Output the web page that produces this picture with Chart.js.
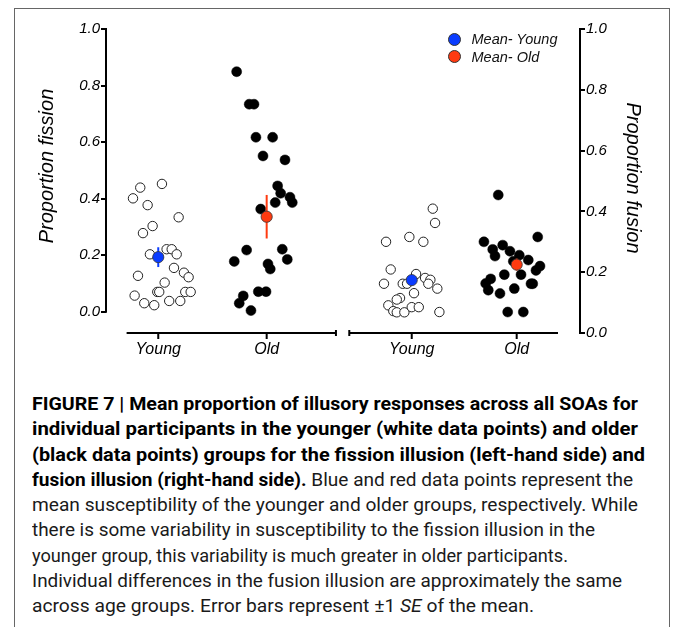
<!DOCTYPE html>
<html>
<head>
<meta charset="utf-8">
<script src="https://cdn.jsdelivr.net/npm/chart.js@4.4.1/dist/chart.umd.min.js"></script>
<style>
  body { margin: 0; background: #fff; }
  #page { position: relative; width: 673px; height: 627px; overflow: hidden; background: #fff; }
  #frame { position: absolute; left: 14px; top: 8px; width: 656px; height: 640px; border: 1px solid #666; box-sizing: border-box; }
  #chart { position: absolute; left: 0; top: 0; }
  .dot { position: absolute; width: 13px; height: 13px; border-radius: 50%; box-sizing: border-box; border: 1px solid #333; }
  .legtxt { position: absolute; font: italic 14.5px "Liberation Sans", Arial, sans-serif; line-height: 16px; color: #111; white-space: nowrap; }
  #caption { position: absolute; left: 32px; top: 392px; font-family: "Liberation Sans Narrow", "Roboto", sans-serif; font-size: 18.8px; line-height: 25.25px; color: #1a1a1a; }
  #caption .ln { white-space: nowrap; height: 25.25px; }
  #caption .ln span.in { display: inline-block; transform-origin: 0 50%; }
  #caption b { color: #000; }
</style>
</head>
<body>
<div id="page">
  <div id="frame"></div>
  <canvas id="chart" width="673" height="372"></canvas>
  <div class="dot" style="left:447.5px; top:32.8px; background:#0a3cff;"></div>
  <div class="legtxt" style="left:471.5px; top:31.3px;">Mean- Young</div>
  <div class="dot" style="left:447.5px; top:50.2px; background:#ff3a10;"></div>
  <div class="legtxt" style="left:471.5px; top:48.7px;">Mean- Old</div>
  <div id="caption">
    <div class="ln" data-w="606"><span class="in"><b>FIGURE 7 | Mean proportion of illusory responses across all SOAs for</b></span></div>
    <div class="ln" data-w="606"><span class="in"><b>individual participants in the younger (white data points) and older</b></span></div>
    <div class="ln" data-w="613"><span class="in"><b>(black data points) groups for the fission illusion (left-hand side) and</b></span></div>
    <div class="ln" data-w="601"><span class="in"><b>fusion illusion (right-hand side).</b> Blue and red data points represent the</span></div>
    <div class="ln" data-w="606"><span class="in">mean susceptibility of the younger and older groups, respectively. While</span></div>
    <div class="ln" data-w="563"><span class="in">there is some variability in susceptibility to the fission illusion in the</span></div>
    <div class="ln" data-w="536"><span class="in">younger group, this variability is much greater in older participants.</span></div>
    <div class="ln" data-w="590"><span class="in">Individual differences in the fusion illusion are approximately the same</span></div>
    <div class="ln" data-w="502"><span class="in">across age groups. Error bars represent ±1 <i>SE</i> of the mean.</span></div>
  </div>
</div>
<script>
// categories and tick values
const xCats = ['Young', 'Old', 'Young', 'Old'];
const xPos = [1, 2, 3.338, 4.306];
const yTicks = [0, 0.2, 0.4, 0.6, 0.8, 1.0];

// fission illusion (left axis) - proportion and horizontal jitter
const fissionYoung = [0.439, 0.452, 0.401, 0.377, 0.334, 0.303, 0.278, 0.203, 0.221, 0.221, 0.203, 0.155, 0.138,
  0.122, 0.127, 0.103, 0.070, 0.070, 0.070, 0.070, 0.057, 0.030, 0.023, 0.038, 0.038];
const fissionYoungJit = [-0.166, 0.034, -0.233, -0.098, 0.188, -0.052, -0.141, -0.077, 0.077, 0.124, 0.170, 0.145, 0.237,
  0.280, -0.187, 0.059, -0.009, 0.009, 0.249, 0.299, -0.218, -0.129, -0.037, 0.101, 0.203];
const fissionOld = [0.849, 0.734, 0.734, 0.617, 0.617, 0.551, 0.537, 0.445, 0.419, 0.405, 0.386, 0.386, 0.363,
  0.218, 0.221, 0.178, 0.185, 0.169, 0.151, 0.071, 0.071, 0.056, 0.030, 0.004];
const fissionOldJit = [-0.277, -0.161, -0.117, -0.099, 0.055, -0.034, 0.169, 0.101, 0.129, 0.215, 0.236, 0.079, -0.055,
  -0.185, 0.144, -0.299, 0.190, 0.012, 0.033, -0.077, -0.006, -0.216, -0.253, -0.145];

// fusion illusion (right axis)
const fusionYoung = [0.409, 0.362, 0.316, 0.300, 0.300, 0.209, 0.162, 0.162, 0.162, 0.194, 0.181, 0.175, 0.162,
  0.146, 0.131, 0.115, 0.110, 0.091, 0.072, 0.068, 0.068, 0.085, 0.085, 0.069];
const fusionYoungJit = [0.194, 0.215, -0.022, -0.237, 0.107, -0.194, -0.256, -0.083, -0.043, 0.040, 0.123, 0.172, 0.153,
  0.236, 0.021, -0.108, -0.138, -0.216, -0.170, -0.138, -0.068, 0, 0.065, 0.255];
const fusionOld = [0.454, 0.316, 0.300, 0.275, 0.253, 0.289, 0.269, 0.256, 0.240, 0.220, 0.206, 0.236, 0.192,
  0.192, 0.178, 0.163, 0.141, 0.130, 0.146, 0.162, 0.162, 0.069, 0.069];
const fusionOldJit = [-0.170, 0.194, -0.302, -0.221, -0.200, -0.129, -0.062, 0.024, 0.107, 0.215, 0.178, -0.031, -0.114,
  0.040, -0.240, -0.286, -0.262, -0.154, -0.022, 0.132, 0.148, -0.083, 0.061];

// group means and standard errors [young, old]
const fissionMeans = [0.193, 0.336];
const fissionSE = [0.035, 0.077];
const fusionMeans = [0.174, 0.225];
const fusionSE = [0.015, 0.02];

// axis line extents in x units (the two panels have separate baselines)
const xSegments = [[0.708, 2.639], [2.762, 4.687]];

const FONT = '"Liberation Sans", Arial, sans-serif';
const BLUE = '#0a3cff';
const RED = '#ff3a10';

function pts(ys, jit, center) {
  return ys.map((v, i) => ({ x: center + jit[i], y: v }));
}

function groupSet(label, data, axis, filled) {
  return {
    label, data, yAxisID: axis, order: 3,
    backgroundColor: filled ? '#000' : '#fff',
    borderColor: filled ? '#000' : '#222',
    borderWidth: filled ? 0.5 : 1,
    pointRadius: filled ? 5 : 4.7
  };
}

function errorSet(x, m, se, axis, color) {
  return {
    type: 'line', label: 'se', yAxisID: axis, order: 2,
    data: [{ x, y: m - se }, { x, y: m + se }],
    borderColor: color, borderWidth: 2, pointRadius: 0
  };
}

function meanSet(label, x, m, axis, color) {
  return {
    label, yAxisID: axis, order: 1,
    data: [{ x, y: m }],
    backgroundColor: color, borderColor: '#333', borderWidth: 0.8, pointRadius: 5.6
  };
}

const axisPlugin = {
  id: 'axisPlugin',
  afterDraw(chart) {
    const { ctx } = chart;
    const { x, yL } = chart.scales;
    ctx.save();
    ctx.strokeStyle = '#000';
    ctx.lineWidth = 2;
    // left y axis only spans 0..1
    ctx.beginPath();
    ctx.moveTo(yL.right, yL.getPixelForValue(1) - 1);
    ctx.lineTo(yL.right, yL.getPixelForValue(0) + 1);
    ctx.stroke();
    // split x axis
    const ay = x.top;
    ctx.beginPath();
    xSegments.forEach(([a, b]) => {
      ctx.moveTo(x.getPixelForValue(a), ay);
      ctx.lineTo(x.getPixelForValue(b), ay);
    });
    // end ticks at the gap
    const e1 = x.getPixelForValue(xSegments[0][1]);
    const e2 = x.getPixelForValue(xSegments[1][0]);
    ctx.moveTo(e1, ay - 3); ctx.lineTo(e1, ay + 3);
    ctx.moveTo(e2, ay - 3); ctx.lineTo(e2, ay + 3);
    // category ticks
    xPos.forEach(v => {
      const px = x.getPixelForValue(v);
      ctx.moveTo(px, ay); ctx.lineTo(px, ay + 6);
    });
    ctx.stroke();
    // axis titles
    ctx.fillStyle = '#000';
    ctx.font = 'italic 20px ' + FONT;
    ctx.textAlign = 'center';
    ctx.textBaseline = 'middle';
    ctx.save();
    ctx.translate(47, 166);
    ctx.rotate(-Math.PI / 2);
    ctx.fillText('Proportion fission', 0, 0);
    ctx.restore();
    ctx.save();
    ctx.translate(633, 178);
    ctx.rotate(Math.PI / 2);
    ctx.fillText('Proportion fusion', 0, 0);
    ctx.restore();
    ctx.restore();
  }
};

const yTickOpts = {
  color: '#000', font: { family: FONT, size: 15, style: 'italic' }, padding: 1,
  callback: v => Number(v).toFixed(1)
};
const yGrid = { drawOnChartArea: false, drawTicks: true, tickLength: 5, color: '#000', lineWidth: 2 };

new Chart(document.getElementById('chart').getContext('2d'), {
  type: 'scatter',
  data: {
    datasets: [
      meanSet('Mean- Young', xPos[0], fissionMeans[0], 'yL', BLUE),
      meanSet('Mean- Old', xPos[1], fissionMeans[1], 'yL', RED),
      meanSet('Mean- Young', xPos[2], fusionMeans[0], 'yR', BLUE),
      meanSet('Mean- Old', xPos[3], fusionMeans[1], 'yR', RED),
      errorSet(xPos[0], fissionMeans[0], fissionSE[0], 'yL', BLUE),
      errorSet(xPos[1], fissionMeans[1], fissionSE[1], 'yL', RED),
      errorSet(xPos[2], fusionMeans[0], fusionSE[0], 'yR', BLUE),
      errorSet(xPos[3], fusionMeans[1], fusionSE[1], 'yR', RED),
      groupSet('Fission young', pts(fissionYoung, fissionYoungJit, xPos[0]), 'yL', false),
      groupSet('Fission old', pts(fissionOld, fissionOldJit, xPos[1]), 'yL', true),
      groupSet('Fusion young', pts(fusionYoung, fusionYoungJit, xPos[2]), 'yR', false),
      groupSet('Fusion old', pts(fusionOld, fusionOldJit, xPos[3]), 'yR', true)
    ]
  },
  options: {
    responsive: false,
    animation: false,
    layout: { padding: { top: 29, left: 0, right: 0, bottom: 0 } },
    plugins: { legend: { display: false }, tooltip: { enabled: false } },
    scales: {
      x: {
        type: 'linear', position: 'bottom', min: 0.518, max: 4.89,
        afterBuildTicks: s => { s.ticks = xPos.map(v => ({ value: v })); },
        afterFit: s => { s.height = 39; },
        grid: { display: false, drawTicks: false },
        border: { display: false },
        ticks: {
          autoSkip: false, maxRotation: 0, padding: 7, color: '#000',
          font: { family: FONT, size: 16, style: 'italic' },
          callback: (v, i) => xCats[i]
        }
      },
      yL: {
        type: 'linear', position: 'left', min: -0.0753, max: 1,
        afterBuildTicks: s => { s.ticks = yTicks.map(v => ({ value: v })); },
        afterFit: s => { s.width = 106; },
        grid: yGrid,
        border: { display: false },
        ticks: yTickOpts
      },
      yR: {
        type: 'linear', position: 'right', min: 0, max: 1,
        afterBuildTicks: s => { s.ticks = yTicks.map(v => ({ value: v })); },
        afterFit: s => { s.width = 93; },
        grid: yGrid,
        border: { display: true, color: '#000', width: 2 },
        ticks: yTickOpts
      }
    }
  },
  plugins: [axisPlugin]
});

// fit each caption line to the width it has in the figure
document.querySelectorAll('#caption .ln').forEach(ln => {
  const span = ln.querySelector('.in');
  const w = span.getBoundingClientRect().width;
  const target = parseFloat(ln.dataset.w);
  if (w > 0) span.style.transform = 'scaleX(' + (target / w).toFixed(4) + ')';
});
</script>
</body>
</html>
